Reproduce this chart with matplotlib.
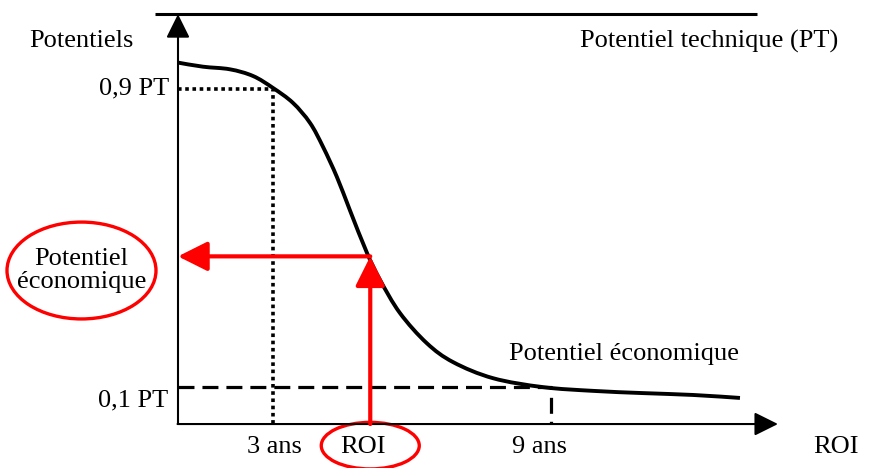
import numpy as np
import matplotlib.pyplot as plt
from matplotlib.patches import Ellipse, PathPatch
from matplotlib.path import Path

# --- données du schéma (ROI en années, potentiel en fraction du PT) ---
roi_annees = [0.95, 1.49, 2.07, 2.57, 3.00, 3.43, 3.80, 4.08, 4.38, 4.66, 5.03,
              5.31, 5.74, 6.32, 6.89, 7.75, 8.83, 9.91, 10.99, 12.07, 13.08]
potentiel = [0.970, 0.959, 0.952, 0.934, 0.902, 0.862, 0.808, 0.744, 0.663, 0.574, 0.459,
             0.387, 0.298, 0.217, 0.166, 0.123, 0.099, 0.089, 0.083, 0.078, 0.070]

seuil_haut = 0.9     # 0,9 PT
seuil_bas = 0.1      # 0,1 PT
roi_court = 3.0      # 3 ans
roi_long = 9.0       # 9 ans
roi_projet = 5.1     # ROI du projet
pot_projet = 0.45    # potentiel économique
niveau_pt = 1.10     # ligne du potentiel technique

x0 = 0.95            # origine de l'axe des ROI
x_fin = 13.9         # bout de la flèche des ROI

plt.rcParams['font.family'] = ['Liberation Serif', 'DejaVu Serif']
fs = 19

fig = plt.figure(figsize=(8.69, 4.68), dpi=100)
ax = fig.add_axes([0, 0, 1, 1])
ax.set_xlim(-2.892, 15.865)
ax.set_ylim(-0.118, 1.138)
ax.axis('off')

# axes avec flèches
fleche_noire = dict(arrowstyle='-|>,head_length=1.45,head_width=0.72',
                    color='black', lw=1.5, shrinkA=0, shrinkB=0)
ax.annotate('', xy=(x0, niveau_pt), xytext=(x0, 0), arrowprops=fleche_noire)
ax.annotate('', xy=(x_fin, 0), xytext=(x0 - 0.01, 0), arrowprops=fleche_noire)

# ligne du potentiel technique
ax.plot([0.45, 13.45], [niveau_pt, niveau_pt], color='black', lw=2.2, solid_capstyle='butt')

# repères 0,9 PT / 3 ans (pointillés)
ax.plot([x0, roi_court, roi_court], [seuil_haut, seuil_haut, 0], color='black', lw=2.6,
        linestyle=(0, (1, 1)), dash_capstyle='butt')
# repères 0,1 PT / 9 ans (tirets)
ax.plot([x0, roi_long, roi_long], [seuil_bas, seuil_bas, 0], color='black', lw=2.3,
        linestyle=(0, (5.0, 2.5)), dash_capstyle='butt')

# courbe lissée (Catmull-Rom -> Bézier cubique)
pts = np.column_stack([roi_annees, potentiel])
verts = [pts[0]]
codes = [Path.MOVETO]
for i in range(len(pts) - 1):
    p0 = pts[max(i - 1, 0)]
    p1 = pts[i]
    p2 = pts[i + 1]
    p3 = pts[min(i + 2, len(pts) - 1)]
    verts += [p1 + (p2 - p0) / 6, p2 - (p3 - p1) / 6, p2]
    codes += [Path.CURVE4] * 3
ax.add_patch(PathPatch(Path(verts, codes), fill=False, edgecolor='black', lw=2.8,
                       capstyle='butt'))

# flèches rouges
rouge = '#ff0000'
fleche_rouge = dict(arrowstyle='-|>,head_length=1.8,head_width=0.9',
                    color=rouge, lw=3.0, shrinkA=0, shrinkB=0)
ax.annotate('', xy=(roi_projet, pot_projet), xytext=(roi_projet, 0), arrowprops=fleche_rouge)
ax.annotate('', xy=(x0, pot_projet), xytext=(roi_projet, pot_projet), arrowprops=fleche_rouge)

# ellipses rouges
ax.add_patch(Ellipse((-1.133, 0.412), 3.216, 0.260, fill=False, edgecolor=rouge, lw=2.4))
ax.add_patch(Ellipse((roi_projet, -0.058), 2.115, 0.125, fill=False, edgecolor=rouge, lw=2.4))

# textes
ax.text(-1.14, 1.028, 'Potentiels', fontsize=fs, ha='center', va='center')
ax.text(0.77, seuil_haut, '0,9 PT', fontsize=fs, ha='right', va='center')
ax.text(0.75, 0.064, '0,1 PT', fontsize=fs, ha='right', va='center')
ax.text(roi_court + 0.04, -0.062, '3 ans', fontsize=fs, ha='center', va='center')
ax.text(roi_projet - 0.15, -0.062, 'ROI', fontsize=fs, ha='center', va='center')
ax.text(roi_long - 0.25, -0.062, '9 ans', fontsize=fs, ha='center', va='center')
ax.text(15.16, -0.062, 'ROI', fontsize=fs, ha='center', va='center')
ax.text(12.41, 1.026, 'Potentiel technique (PT)', fontsize=fs, ha='center', va='center')
ax.text(10.58, 0.188, 'Potentiel économique', fontsize=fs, ha='center', va='center')
ax.text(-1.133, 0.412, 'Potentiel\néconomique', fontsize=fs, ha='center', va='center',
        linespacing=1.05)

fig.savefig('out.png', dpi=100)
